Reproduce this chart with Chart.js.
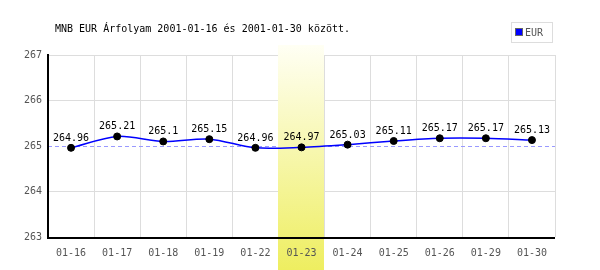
<!DOCTYPE html>
<html><head><meta charset="utf-8">
<script src="https://cdn.jsdelivr.net/npm/chart.js@4/dist/chart.umd.min.js"></script>
<style>html,body{margin:0;padding:0;background:#fff}</style>
</head><body><canvas id="c" width="600" height="270"></canvas>
<script>
const categories = ["01-16","01-17","01-18","01-19","01-22","01-23","01-24","01-25","01-26","01-29","01-30"];
const eurValues = [264.96,265.21,265.1,265.15,264.96,264.97,265.03,265.11,265.17,265.17,265.13];
const valueLabels = ["264.96","265.21","265.1","265.15","264.96","264.97","265.03","265.11","265.17","265.17","265.13"];
const yTicks = [263,264,265,266,267];
const refValue = 265;
const highlightIndex = 5;
const titleText = "MNB EUR Árfolyam 2001-01-16 és 2001-01-30 között.";
const seriesName = "EUR";
const FONT = "DejaVu Sans Mono";

const decor = {
  id:'decor',
  beforeDatasetsDraw(chart){
    const {ctx, chartArea:a, scales:{x,y}} = chart;
    ctx.save();
    const ry = Math.round(y.getPixelForValue(refValue))+0.5;
    ctx.strokeStyle='#9999ff';ctx.lineWidth=1;ctx.setLineDash([4,3]);
    ctx.beginPath();ctx.moveTo(a.left,ry);ctx.lineTo(a.right,ry);ctx.stroke();
    ctx.setLineDash([]);
    const w = x.getPixelForValue(1)-x.getPixelForValue(0);
    const cx = x.getPixelForValue(highlightIndex);
    const g = ctx.createLinearGradient(0,45,0,270);
    g.addColorStop(0,'#fffff4');
    g.addColorStop(1,'#eeee60');
    ctx.fillStyle=g;
    ctx.fillRect(Math.round(cx-w/2),45,Math.round(w),225);
    ctx.strokeStyle='#000';ctx.lineWidth=2;
    ctx.beginPath();ctx.moveTo(a.left,a.top-1);ctx.lineTo(a.left,a.bottom+1);ctx.lineTo(a.right,a.bottom+1);ctx.stroke();
    ctx.restore();
  },
  afterDatasetsDraw(chart){
    const {ctx} = chart;
    const meta = chart.getDatasetMeta(0);
    ctx.save();
    ctx.font = '10px "'+FONT+'"';
    ctx.fillStyle='#000';ctx.textAlign='center';ctx.textBaseline='alphabetic';
    meta.data.forEach((p,i)=>{ctx.fillText(valueLabels[i],p.x,p.y-7);});
    ctx.restore();
  },
  afterDraw(chart){
    const {ctx} = chart;
    ctx.save();
    ctx.font = '10px "'+FONT+'"';
    ctx.fillStyle='#000';ctx.textAlign='left';ctx.textBaseline='middle';
    ctx.fillText(titleText,55,29);
    ctx.strokeStyle='#dddddd';ctx.lineWidth=1;
    ctx.strokeRect(511.5,22.5,41,20);
    ctx.fillStyle='#0000ff';ctx.fillRect(516,29,6,6);
    ctx.strokeStyle='#666';ctx.strokeRect(515.5,28.5,7,7);
    ctx.fillStyle='#555';ctx.fillText(seriesName,525,33);
    ctx.restore();
  }
};

new Chart(document.getElementById('c'),{
  type:'line',
  data:{labels:categories,datasets:[{label:seriesName,data:eurValues,borderColor:'#0000ff',borderWidth:1.5,tension:0.3,
    pointRadius:3.5,pointBackgroundColor:'#000',pointBorderColor:'#000',pointBorderWidth:1,pointHoverRadius:3.5}]},
  options:{
    responsive:false,animation:false,devicePixelRatio:1,
    layout:{padding:{top:55,right:45,bottom:0,left:0}},
    plugins:{legend:{display:false},tooltip:{enabled:false}},
    events:[],
    scales:{
      x:{offset:true,grid:{offset:true,color:'#dddddd',drawTicks:false},border:{display:false},
         ticks:{z:1,color:'#555',font:{family:FONT,size:10},padding:10,maxRotation:0,autoSkip:false},
         afterFit(s){s.height=33;}},
      y:{min:263,max:267,afterBuildTicks(s){s.ticks=yTicks.map(v=>({value:v}));},
         grid:{color:(c)=>c.tick&&c.tick.value===refValue?'rgba(0,0,0,0)':'#dddddd',drawTicks:false},border:{display:false},
         ticks:{z:1,color:'#555',font:{family:FONT,size:10},padding:6},
         afterFit(s){s.width=48;}}
    }
  },
  plugins:[decor]
});
</script></body></html>
